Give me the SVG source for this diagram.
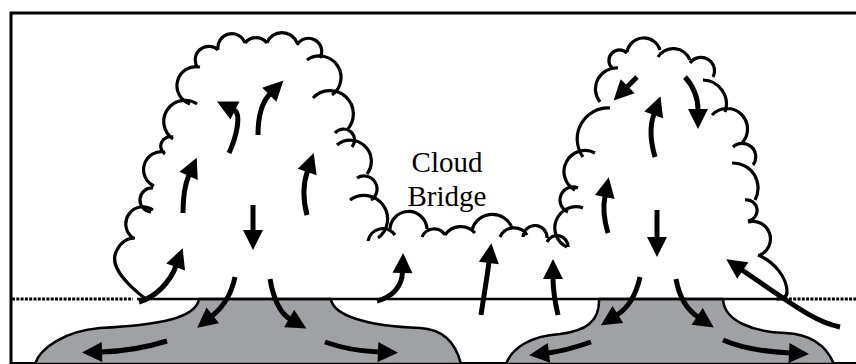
<svg xmlns="http://www.w3.org/2000/svg" width="856" height="364" viewBox="0 0 856 364">
<style>
.frame{fill:#fff;stroke:#000;stroke-width:3}
.pool{fill:#a0a1a4;stroke:#000;stroke-width:2.5;stroke-linejoin:round}
.ground{stroke:#000;stroke-width:2.5;fill:none}
.dot{stroke:#000;stroke-width:3;stroke-dasharray:3 1.3;fill:none}
.cloud{fill:none;stroke:#000;stroke-width:3.2}
.arr{fill:none;stroke:#000;stroke-width:5;marker-end:url(#ah)}
.lbl{font-family:"Liberation Serif","Times New Roman",serif;font-size:29px;fill:#000;text-anchor:middle}
</style>
<defs>
<marker id="ah" markerUnits="userSpaceOnUse" viewBox="0 0 20 20" markerWidth="20" markerHeight="20" refX="1" refY="10" orient="auto" overflow="visible">
<path d="M0,0 L20,10 L0,20 Z" fill="#000"/>
</marker>
</defs>
<rect class="frame" x="11" y="13" width="850" height="350.5"/>

<g id="left-pool">
<path class="pool" d="M199,299 C196,318 160,325 100,328 C65,331 40,348 35,364 L461,364 C455,340 440,329 420,328 C365,326 333,315 331,299 Z"/>
</g>
<g id="right-pool">
<path class="pool" d="M599,299 C600,322 585,331 560,334 C530,336 512,348 506,364 L834,364 C826,345 810,334 785,333 C755,332 724,322 723,299 Z"/>
</g>

<g id="ground">
<line class="ground" x1="137" y1="299" x2="776" y2="299"/>
<line class="dot" x1="12" y1="299" x2="133" y2="299"/>
<line class="dot" x1="776" y1="299" x2="856" y2="299"/>
</g>

<g id="left-cloud">
<path class="cloud" d="M147,300 C125,283 108,265 117,250 C121,242 128,238 135,238
M133,238 A17,17 0 0 1 153,210
M151,212 A12,12 0 0 1 153,188
M154,186 A18,18 0 0 1 165,152
M165,154 A9.5,9.5 0 0 1 173,137
M173,139 A21.2,21.2 0 0 1 197,104
M190,104 A19.2,19.2 0 0 1 200,67
M198,68 A13.5,13.5 0 0 1 218,50
M218,50 A14,14 0 0 1 245,43
M245,43 A14,14 0 0 1 267,43
M267,43 A16,16 0 0 1 297,43
M297,45 A13.2,13.2 0 0 1 320,58
M307,60 A21.5,21.5 0 0 1 332,95
M313,98 A23.3,23.3 0 0 1 347,130
M335,133 A11,11 0 0 1 352,147
M337,145 A21,21 0 0 1 367,174
M357,178 A13,13 0 0 1 371,200
M350,200 A23.6,23.6 0 0 1 378,238"/>
</g>

<g id="cloud-bridge">
<path class="cloud" d="M368,241 A15,15 0 0 1 395,235
M390,231 A18.5,18.5 0 0 1 427,229
M422,237 A13,13 0 0 1 445,235
M445,235 A19,19 0 0 1 475,233
M472,230 A21,21 0 0 1 512,228
M500,237 A15.4,15.4 0 0 1 527,235
M523,237 A12,12 0 0 1 547,238
M547,242 A11,11 0 0 1 568,247"/>
<text class="lbl" x="447" y="172">Cloud</text>
<text class="lbl" x="447" y="206">Bridge</text>
</g>

<g id="right-cloud">
<path class="cloud" d="M567,247 A21.1,21.1 0 0 1 583,208
M568,212 A13,13 0 0 1 578,188
M575,190 A21,21 0 0 1 595,153
M583,157 A31,31 0 0 1 610,108
M600,102 A21,21 0 0 1 618,68
M612,68 A10.6,10.6 0 0 1 627,53
M627,52 A17,17 0 0 1 660,50
M658,57 A18,18 0 0 1 690,60
M690,63 A13.5,13.5 0 0 1 713,77
M703,80 A24,24 0 0 1 725,112
M712,115 A20.5,20.5 0 0 1 742,143
M733,147 A13.5,13.5 0 0 1 753,165
M732,163 A25,25 0 0 1 755,200
M745,200 A10.5,10.5 0 0 1 748,221
M748,222 A17.6,17.6 0 0 1 760,255
M758,255 C775,262 787,278 787,292 C787,297 783,299 777,299"/>
</g>

<g id="connectors">
<path class="arr" d="M229,153 C236,138 242,114 234,110"/>
<path class="arr" d="M258,135 C258,115 262,102 270,94"/>
<path class="arr" d="M183,213 C183,198 185,184 189,175"/>
<path class="arr" d="M307,215 C303,200 303,184 307.5,171"/>
<path class="arr" d="M253,205 L253,231"/>
<path class="arr" d="M139,302 C156,297 170,282 176,266"/>
<path class="arr" d="M235,277 C231,296 222,308 212,316"/>
<path class="arr" d="M270,279 C273,296 278,312 290,319"/>
<path class="arr" d="M167,341 Q135,351 101,352"/>
<path class="arr" d="M325,342 Q350,351 379,352"/>
<path class="arr" d="M377,301 C392,297 402,287 402.5,272"/>
<path class="arr" d="M481,315 C484,295 487,278 489,262"/>
<path class="arr" d="M558,315 C555,302 553,290 553,278"/>
<path class="arr" d="M608,233 C604,220 603,206 605,196"/>
<path class="arr" d="M657,210 L657,238"/>
<path class="arr" d="M840,327 C815,322 795,306 742,270"/>
<path class="arr" d="M640,277 C636,295 628,308 617,315"/>
<path class="arr" d="M676,279 C679,296 686,309 698,317"/>
<path class="arr" d="M591,342 Q565,351 548,353"/>
<path class="arr" d="M723,340 Q748,351 790,353"/>
<path class="arr" d="M637,77 L627,87"/>
<path class="arr" d="M655,157 C650,140 650,125 654,114"/>
<path class="arr" d="M685,77 C694,87 698,97 698,110"/>
</g>
</svg>
